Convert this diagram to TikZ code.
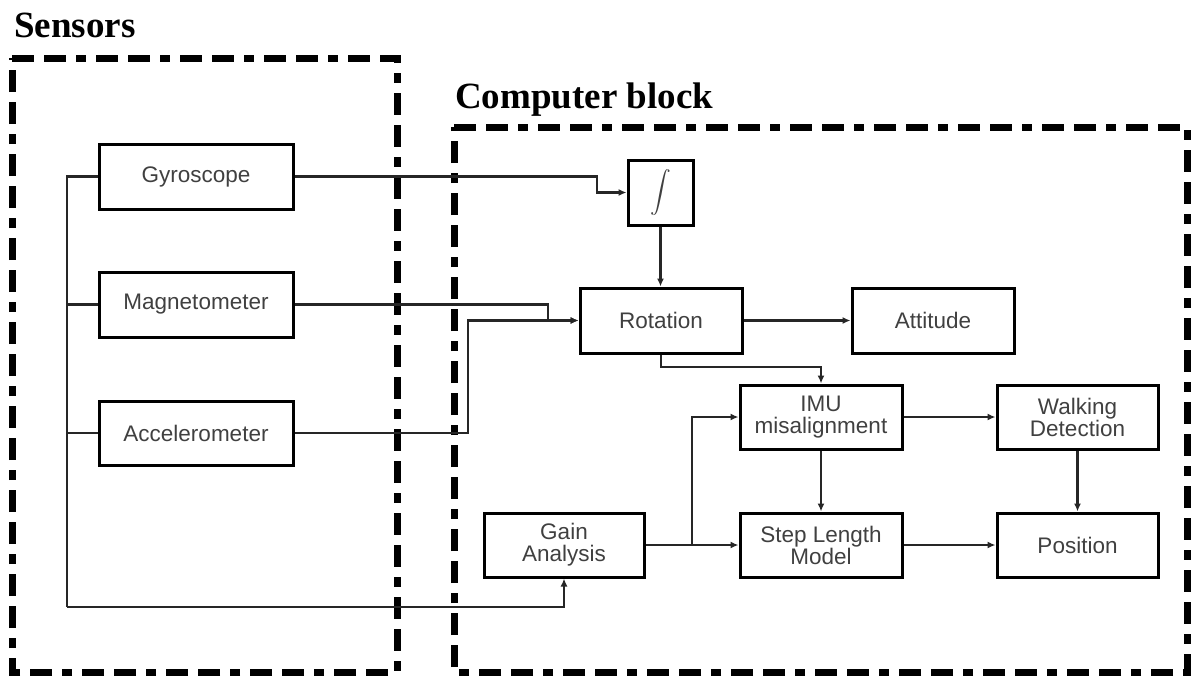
\documentclass[tikz,border=0pt]{standalone}
\usepackage{amsmath}
\usepackage{fontspec}
\setmainfont{Liberation Sans}
\newfontfamily\titlefont{Liberation Serif}
\usetikzlibrary{arrows.meta}
\begin{document}
\begin{tikzpicture}[x=1pt,y=-1pt,
  blk/.style={draw=black, line width=3pt, inner sep=0pt, align=center,
    font=\fontsize{22.5}{22}\selectfont, text=black!75},
  conn/.style={line width=2.4pt, draw=black!85, -{Latex[length=8pt,width=7pt]}},
  wire/.style={line width=2.4pt, draw=black!85},
  region/.style={line width=7pt, dash pattern=on 22pt off 10pt on 22pt off 10pt on 10pt off 10pt},
  title/.style={font=\titlefont\bfseries\fontsize{37}{38}\selectfont, inner sep=0pt, anchor=base west}]
\useasboundingbox (0,0) rectangle (1193,678);

% region frames
\draw[region] (12,58) -- (397,58) -- (397,672) -- (12,672) -- cycle;
\draw[region] (454,127) -- (1187,127) -- (1187,672) -- (454,672) -- cycle;
\node[title] (tsens) at (14,37) {Sensors};
\node[title] (tcomp) at (455,108) {Computer block};

% blocks
\node[blk, minimum width=194pt, minimum height=65pt] (gyro) at (196,176.5) {Gyroscope};
\node[blk, minimum width=194pt, minimum height=65pt] (mag) at (196,304.5) {Magnetometer};
\node[blk, minimum width=194pt, minimum height=64pt] (acc) at (196,433) {Accelerometer};
\node[blk, minimum width=65pt, minimum height=65pt] (int) at (660.5,192.5) {\fontsize{20}{20}\selectfont$\displaystyle\int$};
\node[blk, minimum width=162pt, minimum height=65pt] (rot) at (661,320.5) {Rotation};
\node[blk, minimum width=162pt, minimum height=65pt] (att) at (933,320.5) {Attitude};
\node[blk, minimum width=162pt, minimum height=64pt] (imu) at (821,417) {IMU\\misalignment};
\node[blk, minimum width=161pt, minimum height=64pt] (walk) at (1077.5,417) {Walking\\Detection};
\node[blk, minimum width=162pt, minimum height=64pt] (step) at (821,545) {Step Length\\Model};
\node[blk, minimum width=161pt, minimum height=64pt] (pos) at (1077.5,545) {Position};
\node[blk, minimum width=160pt, minimum height=64pt] (gain) at (564,545) {Gain\\Analysis};

% bus on the left
\coordinate (busB) at (67,607);
\draw[wire] (gyro.west) -- (gyro.west -| busB) -- (busB);
\draw[wire] (mag.west) -- (mag.west -| busB);
\draw[wire] (acc.west) -- (acc.west -| busB);
\draw[conn] (busB) -| (gain.south);

% sensor outputs
\coordinate (gk) at (597,176.5);
\draw[conn] (gyro.east) -- (gk) |- (int.west);
\coordinate (mk) at (548,304.5);
\draw[conn] (mag.east) -- (mk) |- (rot.west);
\coordinate (ak) at (468,433);
\draw[conn] (acc.east) -- (ak) |- (rot.west);

% computer block flow
\draw[conn] (int.south) -- (int.south |- rot.north);
\draw[conn] (rot.east) -- (att.west);
\coordinate (rk) at (661,367);
\draw[conn] (rot.south) -- (rk) -| (imu.north);
\draw[conn] (imu.east) -- (walk.west);
\draw[conn] (imu.south) -- (step.north);
\draw[conn] (walk.south) -- (pos.north);
\draw[conn] (step.east) -- (pos.west);
\coordinate (gb) at (692,545);
\draw[conn] (gain.east) -- (step.west);
\draw[conn] (gb) |- (imu.west);
\end{tikzpicture}
\end{document}
